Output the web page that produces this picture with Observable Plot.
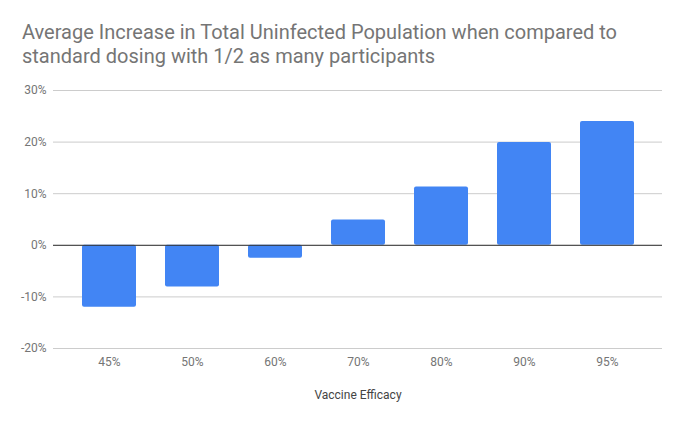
<!DOCTYPE html>
<html>
<head>
<meta charset="utf-8">
<script src="https://cdn.jsdelivr.net/npm/d3@7"></script>
<script src="https://cdn.jsdelivr.net/npm/@observablehq/plot@0.6"></script>
<style>
  html, body { margin: 0; padding: 0; background: #fff; }
  #title {
    box-sizing: border-box; height: 80px; padding: 20px 0 0 22px;
    font-family: Roboto, sans-serif; font-size: 20px; line-height: 24px; color: #757575;
    white-space: nowrap;
  }
  svg { display: block; }
</style>
</head>
<body>
<div id="title">Average Increase in Total Uninfected Population when compared to<br>standard dosing with 1/2 as many participants</div>
<div id="chart"></div>
<script>
const categories = ["45%", "50%", "60%", "70%", "80%", "90%", "95%"];
const values = [-12.0, -8.1, -2.5, 4.9, 11.3, 19.9, 24.0];
const yTicks = [-20, -10, 0, 10, 20, 30];
const xLabel = "Vaccine Efficacy";

const data = categories.map((c, i) => ({ cat: c, value: values[i] }));

const chart = Plot.plot({
  width: 684,
  height: 343,
  marginLeft: 53,
  marginRight: 22,
  marginTop: 10,
  marginBottom: 75,
  style: { fontFamily: "Roboto, sans-serif", fontSize: "12px", color: "#757575", background: "white" },
  x: { domain: categories, paddingInner: 0.35, paddingOuter: 0.175, insetLeft: 14.5, insetRight: 13.5, label: null },
  y: { domain: [-20, 30], label: null },
  marks: [
    Plot.gridY(yTicks, { stroke: "#cccccc", strokeOpacity: 1 }),
    Plot.axisY(yTicks, { tickSize: 0, tickPadding: 7, tickFormat: d => d + "%", fill: "#757575", label: null }),
    Plot.axisX({ tickSize: 0, tickPadding: 9, fill: "#757575", label: null }),
    Plot.barY(data, { x: "cat", y: "value", fill: "#4285F4", rx: 2 }),
    Plot.ruleY([0], { stroke: "#333333" }),
    Plot.text([xLabel], { frameAnchor: "bottom", lineAnchor: "middle", dy: 47, fill: "#444444", fontSize: 12 })
  ]
});
document.getElementById("chart").appendChild(chart);
</script>
</body>
</html>
